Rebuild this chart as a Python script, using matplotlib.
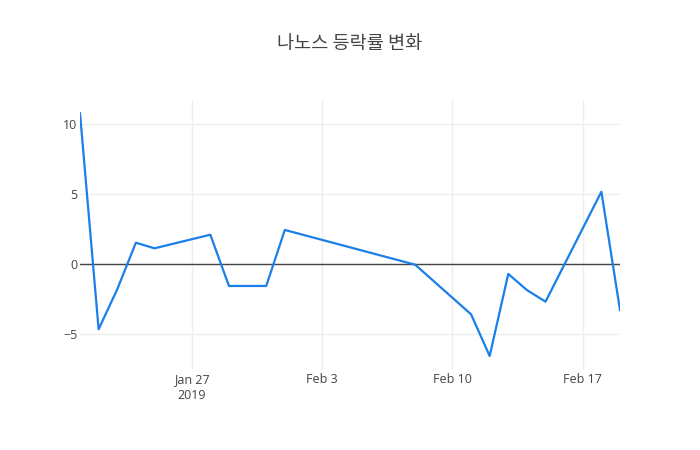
import matplotlib
matplotlib.use("Agg")
import matplotlib.pyplot as plt
import numpy as np
import pandas as pd

plt.rcParams['font.family'] = ['Open Sans', 'Noto Sans CJK KR', 'DejaVu Sans']

# 나노스 daily change (%)
dates = pd.to_datetime([
    "2019-01-21", "2019-01-22", "2019-01-23", "2019-01-24", "2019-01-25",
    "2019-01-28", "2019-01-29", "2019-01-31", "2019-02-01", "2019-02-08",
    "2019-02-11", "2019-02-12", "2019-02-13", "2019-02-14", "2019-02-15",
    "2019-02-18", "2019-02-19",
])
changes = [10.76, -4.66, -1.81, 1.52, 1.12,
           2.09, -1.57, -1.57, 2.43, -0.05,
           -3.59, -6.57, -0.71, -1.86, -2.69,
           5.16, -3.29]

tick_dates = pd.to_datetime(["2019-01-27", "2019-02-03", "2019-02-10", "2019-02-17"])
tick_labels = ["Jan 27\n2019", "Feb 3", "Feb 10", "Feb 17"]
y_ticks = [-5, 0, 5, 10]

fig = plt.figure(figsize=(7, 4.5), dpi=100)
ax = fig.add_axes([80 / 700, 80 / 450, 540 / 700, 270 / 450])

ax.plot(dates, changes, color="#1a7fe8", linewidth=1.6, zorder=3)
ax.axhline(0, color="#444444", linewidth=1.0, zorder=2)

ax.set_xlim(dates[0], dates[-1])
ax.set_ylim(-7.57, 11.71)

ax.set_xticks(tick_dates)
ax.set_xticklabels(tick_labels)
ax.set_yticks(y_ticks)
ax.set_yticklabels([str(v).replace("-", "\u2212") for v in y_ticks])

ax.grid(True, color="#eeeeee", linewidth=1.0, zorder=0)
for s in ax.spines.values():
    s.set_visible(False)
ax.tick_params(length=0, labelsize=9, colors="#444444")
ax.tick_params(axis="x", pad=2)
ax.tick_params(axis="y", pad=2)
for lbl in ax.get_xticklabels():
    lbl.set_linespacing(1.3)

fig.text(0.5, 1 - 44 / 450, "나노스 등락률 변화", ha="center", va="center",
         fontsize=13.4, color="#444444", family=['Noto Sans CJK KR', 'DejaVu Sans'])

fig.savefig("out.png", dpi=100)
